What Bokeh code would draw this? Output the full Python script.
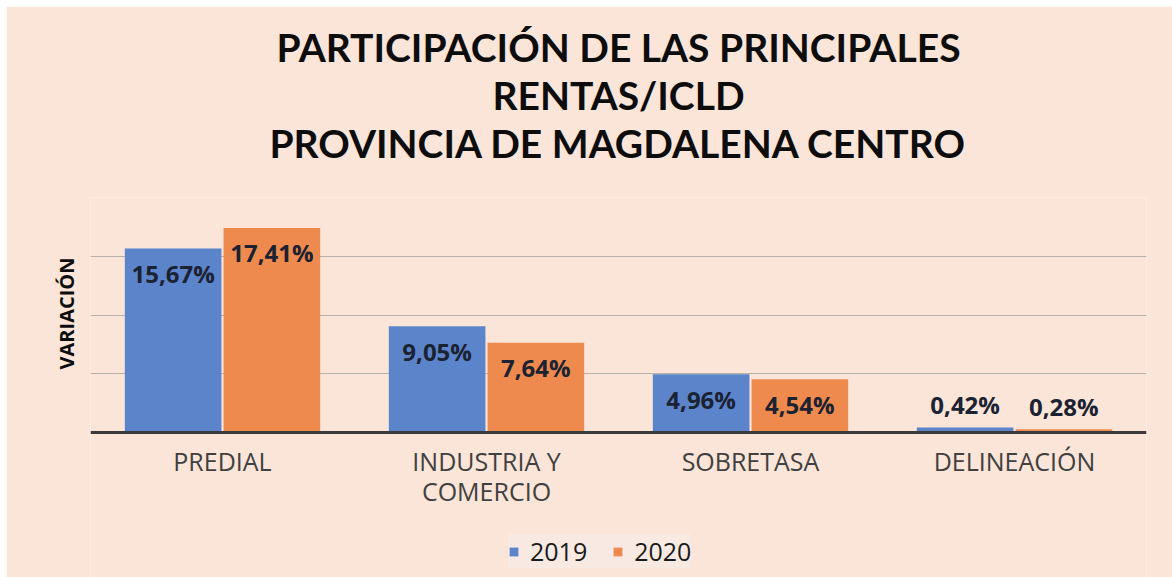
from bokeh.plotting import figure
from bokeh.models import Range1d, FixedTicker, ColumnDataSource, Title, FactorRange, Span
from bokeh.transform import dodge
from bokeh.core.properties import value
from bokeh.embed import file_html
from bokeh.resources import INLINE

categories = ["PREDIAL", "INDUSTRIA Y\nCOMERCIO", "SOBRETASA", "DELINEACIÓN"]
v2019 = [15.67, 9.05, 4.96, 0.42]
v2020 = [17.41, 7.64, 4.54, 0.28]
series_names = ["2019", "2020"]
grid_ticks = [5, 10, 15, 20]
title_lines = ["PARTICIPACIÓN DE LAS PRINCIPALES", "RENTAS/ICLD", "PROVINCIA DE MAGDALENA CENTRO"]
y_label = "VARIACIÓN"

BG = "#FBE5D8"
BLUE = "#5B84CB"
ORANGE = "#EE8A4D"
FONT = "Open Sans"
TITLE_FONT = "Lato"

def fmt(v):
    return f"{v:.2f}".replace(".", ",") + "%"

src = ColumnDataSource(dict(
    cat=categories,
    v2019=v2019,
    v2020=v2020,
    zero=[0] * len(categories),
    l2019=[fmt(v) for v in v2019],
    l2020=[fmt(v) for v in v2020],
    o2019=[25 if v > 1 else -23 for v in v2019],
    o2020=[25 if v > 1 else -23 for v in v2020],
))

p = figure(frame_width=1056, frame_height=380, x_range=FactorRange(*categories),
           y_range=Range1d(-12.34, 20),
           output_backend="svg", toolbar_location=None,
           background_fill_color=BG, border_fill_color=BG,
           min_border_left=84, min_border_right=26, min_border_top=191, min_border_bottom=0)
p.margin = (6, 0, 0, 6)
p.outline_line_color = None
p.xaxis.visible = False
p.yaxis.visible = False

# spacer between title and plot (closest to plot), then the title lines bottom-up
p.add_layout(Title(text=" ", text_font=FONT, text_font_size="22px", standoff=0), "above")
for line in reversed(title_lines):
    p.add_layout(Title(text=line, align="center", text_font=TITLE_FONT, text_font_size="39px",
                       text_font_style="bold", text_color="#0D0D0D", standoff=0), "above")

# y label on the left
p.add_layout(Title(text=y_label, align="right", offset=60, text_font=FONT,
                   text_font_size="20px", text_font_style="bold", text_color="#0D0D0D",
                   standoff=22), "left")

# grid
p.xgrid.grid_line_color = None
p.ygrid.ticker = FixedTicker(ticks=grid_ticks)
p.ygrid.grid_line_color = "#B8B0AA"
p.ygrid.grid_line_width = 1

d = 0.187
w = 0.366
p.vbar(x=dodge("cat", -d, range=p.x_range), top="v2019", width=w, source=src,
       fill_color=BLUE, line_color=None, legend_label=series_names[0])
p.vbar(x=dodge("cat", d, range=p.x_range), top="v2020", width=w, source=src,
       fill_color=ORANGE, line_color=None, legend_label=series_names[1])

# baseline
p.add_layout(Span(location=0, dimension="width", line_color="#3A3A3A", line_width=3))

p.text(x=dodge("cat", -d, range=p.x_range), y="v2019", text="l2019", y_offset="o2019", source=src,
       text_align="center", text_baseline="middle", text_font=value(FONT),
       text_font_size="24px", text_font_style="bold", text_color="#1B2231")
p.text(x=dodge("cat", d, range=p.x_range), y="v2020", text="l2020", y_offset="o2020", source=src,
       text_align="center", text_baseline="middle", text_font=value(FONT),
       text_font_size="24px", text_font_style="bold", text_color="#1B2231")

# category labels
p.text(x="cat", y="zero", text="cat", source=src, y_offset=11,
       text_align="center", text_baseline="top", text_font=value(FONT),
       text_font_size="25px", text_color="#404040", text_line_height=0.9)

# legend
lg = p.legend[0]
lg.orientation = "horizontal"
lg.location = (418, 9)
lg.margin = 0
lg.background_fill_color = "#F8EAE2"
lg.background_fill_alpha = 1
lg.border_line_color = None
lg.label_text_font = FONT
lg.label_text_font_size = "25px"
lg.label_text_color = "#1A1A1A"
lg.label_height = 22
lg.glyph_width = 11
lg.glyph_height = 11
lg.label_standoff = 11
lg.spacing = 25
lg.padding = 12

open("out.html", "w").write(file_html(p, INLINE))
